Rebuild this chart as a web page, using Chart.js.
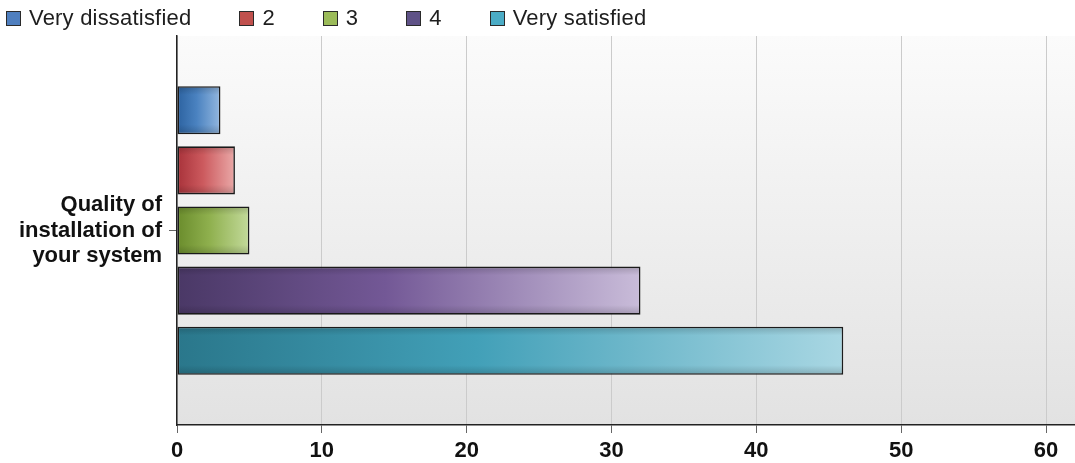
<!DOCTYPE html>
<html>
<head>
<meta charset="utf-8">
<script src="https://cdn.jsdelivr.net/npm/chart.js@4/dist/chart.umd.min.js"></script>
<style>
  html, body { margin: 0; padding: 0; background: #ffffff; }
  #wrap { position: relative; width: 1075px; height: 463px; }
  #legend { position: absolute; left: 6px; top: 6px; display: flex; align-items: center;
            font-family: "Liberation Sans", Arial, sans-serif; font-size: 22px; line-height: 24px;
            letter-spacing: 0.2px; color: #1e1e1e; z-index: 2; white-space: nowrap; }
  .item { display: flex; align-items: center; margin-right: 48px; }
  .swatch { width: 13px; height: 13px; border: 1px solid #2a2a2a; margin-right: 8px; }
  canvas { position: absolute; left: 0; top: 0; }
</style>
</head>
<body>
<div id="wrap">
  <div id="legend"></div>
  <canvas id="c" width="1075" height="463"></canvas>
</div>
<script>
// Survey question and answer series
const categories = [['Quality of', 'installation of', 'your system']];
const seriesLabels = ['Very dissatisfied', '2', '3', '4', 'Very satisfied'];
const seriesValues = [3, 4, 5, 32, 46];
const xTickValues = [0, 10, 20, 30, 40, 50, 60];

// Bar shading: [dark base, middle, light tip], plus legend swatch colour
const seriesShades = [
  ['#2c62a0', '#4a82c0', '#93b7df'],
  ['#a8323a', '#cc5a5e', '#eaa9a8'],
  ['#6a8c2c', '#8fb04e', '#c3da9b'],
  ['#4a3866', '#735896', '#c9bcd9'],
  ['#2a778b', '#42a0b8', '#a9d7e3']
];
const swatchColors = ['#4f7fbf', '#c0504d', '#9bbb59', '#5f5287', '#4bacc6'];

// HTML legend built from the series labels
const legendEl = document.getElementById('legend');
seriesLabels.forEach((label, i) => {
  const item = document.createElement('div');
  item.className = 'item';
  const sw = document.createElement('div');
  sw.className = 'swatch';
  sw.style.background = swatchColors[i];
  const tx = document.createElement('span');
  tx.textContent = label;
  item.appendChild(sw);
  item.appendChild(tx);
  legendEl.appendChild(item);
});

function barGradient(i) {
  return (ctx) => {
    const chart = ctx.chart;
    if (!chart.chartArea || !chart.scales.x) return swatchColors[i];
    const xs = chart.scales.x;
    const x0 = xs.getPixelForValue(0);
    const x1 = xs.getPixelForValue(ctx.raw == null ? 0 : ctx.raw);
    if (x1 - x0 < 1) return swatchColors[i];
    const g = chart.ctx.createLinearGradient(x0, 0, x1, 0);
    g.addColorStop(0, seriesShades[i][0]);
    g.addColorStop(0.45, seriesShades[i][1]);
    g.addColorStop(1, seriesShades[i][2]);
    return g;
  };
}

// Plot background: soft vertical gradient
const plotBackground = {
  id: 'plotBackground',
  beforeDraw(chart) {
    const { ctx, chartArea: a } = chart;
    const g = ctx.createLinearGradient(0, a.top, 0, a.bottom);
    g.addColorStop(0, '#fbfbfb');
    g.addColorStop(1, '#e2e2e2');
    ctx.save();
    ctx.fillStyle = g;
    ctx.fillRect(a.left, a.top, a.right - a.left, a.bottom - a.top);
    ctx.restore();
  }
};

// Soft shading at the top and bottom edge of each bar
const barGloss = {
  id: 'barGloss',
  afterDatasetsDraw(chart) {
    const ctx = chart.ctx;
    chart.data.datasets.forEach((ds, i) => {
      const meta = chart.getDatasetMeta(i);
      meta.data.forEach(el => {
        const { x, y, base, height } = el.getProps(['x', 'y', 'base', 'height'], true);
        const top = y - height / 2;
        const g = ctx.createLinearGradient(0, top, 0, top + height);
        g.addColorStop(0, 'rgba(0,0,0,0.18)');
        g.addColorStop(0.18, 'rgba(0,0,0,0)');
        g.addColorStop(0.8, 'rgba(0,0,0,0)');
        g.addColorStop(1, 'rgba(0,0,0,0.18)');
        ctx.save();
        ctx.fillStyle = g;
        ctx.fillRect(base + 1, top + 1, x - base - 2, height - 2);
        ctx.restore();
      });
    });
  }
};

new Chart(document.getElementById('c'), {
  type: 'bar',
  data: {
    labels: categories,
    datasets: seriesLabels.map((label, i) => ({
      label,
      data: [seriesValues[i]],
      backgroundColor: barGradient(i),
      borderColor: '#1c1c1c',
      borderWidth: 1.6,
      borderSkipped: false,
      categoryPercentage: 0.773,
      barPercentage: 0.8
    }))
  },
  options: {
    indexAxis: 'y',
    responsive: false,
    animation: false,
    devicePixelRatio: 1,
    layout: { padding: { top: 36, right: 0, left: 0, bottom: 0 } },
    plugins: {
      legend: { display: false },
      tooltip: { enabled: false }
    },
    scales: {
      x: {
        min: 0,
        max: 62,
        afterBuildTicks(scale) {
          scale.ticks = xTickValues.map(v => ({ value: v }));
        },
        afterFit(scale) {
          scale.height = 38;
          scale.paddingLeft = 0;
          scale.paddingRight = 0;
        },
        grid: {
          color: '#cbcbcb',
          lineWidth: 1,
          tickLength: 8,
          tickColor: '#666'
        },
        border: { color: '#222', width: 1.5 },
        ticks: {
          padding: 6,
          color: '#111',
          font: { family: '"Liberation Sans", Arial, sans-serif', size: 22, weight: 'bold', lineHeight: 1.1 }
        }
      },
      y: {
        afterFit(scale) {
          scale.width = 177;
          scale.paddingTop = 0;
          scale.paddingBottom = 0;
        },
        grid: {
          drawOnChartArea: false,
          offset: false,
          tickLength: 8,
          tickColor: '#666'
        },
        border: { color: '#222', width: 1.5 },
        ticks: {
          padding: 7,
          color: '#111',
          font: { family: '"Liberation Sans", Arial, sans-serif', size: 22, weight: 'bold', lineHeight: 1.16 }
        }
      }
    }
  },
  plugins: [plotBackground, barGloss]
});
</script>
</body>
</html>
